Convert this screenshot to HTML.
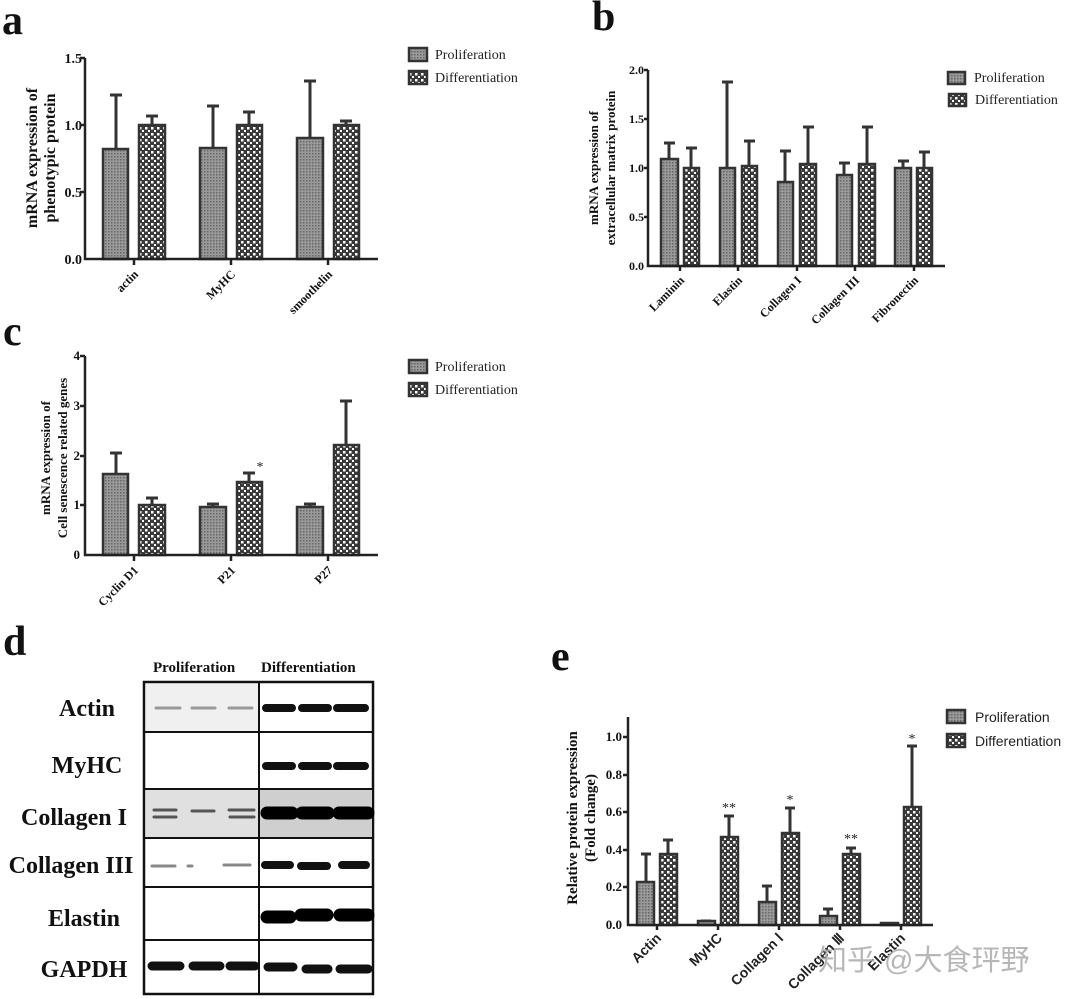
<!DOCTYPE html>
<html><head><meta charset="utf-8"><style>
html,body{margin:0;padding:0;background:#fff}
svg{display:block}
.t{font-family:"Liberation Serif",serif;font-weight:bold;fill:#111}
.l{font-family:"Liberation Serif",serif;fill:#222;font-size:14px}
.s{font-family:"Liberation Sans",sans-serif;fill:#222;font-size:14px}
.ax{stroke:#222;stroke-width:2.5;fill:none}
.e{stroke:#333;stroke-width:3;fill:none}
.p{fill:url(#pp);stroke:#333;stroke-width:2.5}
.d{fill:url(#pd);stroke:#333;stroke-width:2.5}
</style></head><body>
<svg width="1080" height="999" viewBox="0 0 1080 999" xmlns="http://www.w3.org/2000/svg">
<defs>
<pattern id="pp" width="3" height="3" patternUnits="userSpaceOnUse"><rect width="3" height="3" fill="#999"/><rect width="1.5" height="1.5" fill="#666"/></pattern>
<pattern id="pd" width="6" height="6" patternUnits="userSpaceOnUse"><rect width="6" height="6" fill="#3a3a3a"/><rect x="1" y="1" width="2.5" height="2.5" fill="#fff"/><rect x="4" y="4" width="2" height="2" fill="#fff"/></pattern>
</defs>

<!-- Panel a -->
<text class="t" x="2" y="34" font-size="42">a</text>
<g class="t" font-size="14" text-anchor="end">
<text x="82" y="264">0.0</text><text x="82" y="197">0.5</text><text x="82" y="130">1.0</text><text x="82" y="63">1.5</text></g>
<text class="t" font-size="16" text-anchor="middle" transform="translate(37,158) rotate(-90)">mRNA expression of</text>
<text class="t" font-size="16" text-anchor="middle" transform="translate(55,158) rotate(-90)">phenotypic protein</text>
<path class="e" d="M116 149V95M110 95H122M152 125V116M146 116H158M213 148V106M207 106H219M249 125V112M243 112H255M310 138V81M304 81H316M346 125V121M340 121H352"/>
<rect class="p" x="103" y="149" width="25" height="110"/><rect class="d" x="139" y="125" width="26" height="134"/>
<rect class="p" x="200" y="148" width="26" height="111"/><rect class="d" x="237" y="125" width="25" height="134"/>
<rect class="p" x="297" y="138" width="26" height="121"/><rect class="d" x="334" y="125" width="25" height="134"/>
<path class="ax" d="M85 58V259H378M80 58H85M80 125H85M80 192H85M134 259v6M231 259v6M328 259v6"/>
<g class="t" font-size="12" text-anchor="end">
<text transform="translate(139,275) rotate(-45)">actin</text>
<text transform="translate(236,275) rotate(-45)">MyHC</text>
<text transform="translate(333,275) rotate(-45)">smoothelin</text></g>
<rect class="p" x="409" y="48" width="18" height="13"/><rect class="d" x="409" y="71" width="18" height="13"/>
<text class="l" x="435" y="59">Proliferation</text><text class="l" x="435" y="82">Differentiation</text>

<!-- Panel b -->
<text class="t" x="592" y="30" font-size="42">b</text>
<g class="t" font-size="12" text-anchor="end">
<text x="644" y="270">0.0</text><text x="644" y="221">0.5</text><text x="644" y="172">1.0</text><text x="644" y="123">1.5</text><text x="644" y="74">2.0</text></g>
<text class="t" font-size="13" text-anchor="middle" transform="translate(598,168) rotate(-90)">mRNA expression of</text>
<text class="t" font-size="13" text-anchor="middle" transform="translate(615,168) rotate(-90)">extracellular matrix protein</text>
<path class="e" d="M669 159V143M664 143H675M691 168V148M686 148H697M727 168V82M722 82H733M749 166V141M744 141H755M785 182V151M780 151H791M808 164V127M803 127H814M844 175V163M839 163H850M867 164V127M862 127H873M903 168V161M898 161H909M924 168V152M919 152H930"/>
<rect class="p" x="661" y="159" width="17" height="107"/><rect class="d" x="684" y="168" width="15" height="98"/>
<rect class="p" x="720" y="168" width="15" height="98"/><rect class="d" x="742" y="166" width="15" height="100"/>
<rect class="p" x="778" y="182" width="15" height="84"/><rect class="d" x="800" y="164" width="16" height="102"/>
<rect class="p" x="837" y="175" width="15" height="91"/><rect class="d" x="859" y="164" width="16" height="102"/>
<rect class="p" x="895" y="168" width="16" height="98"/><rect class="d" x="917" y="168" width="15" height="98"/>
<path class="ax" d="M648 70V266H945M644 70H648M644 119H648M644 168H648M644 217H648M680 266v5M738 266v5M797 266v5M855 266v5M914 266v5"/>
<g class="t" font-size="12" text-anchor="end">
<text transform="translate(685,281) rotate(-45)">Laminin</text>
<text transform="translate(743,281) rotate(-45)">Elastin</text>
<text transform="translate(802,281) rotate(-45)">Collagen I</text>
<text transform="translate(860,281) rotate(-45)">Collagen III</text>
<text transform="translate(919,281) rotate(-45)">Fibronectin</text></g>
<rect class="p" x="948" y="72" width="17" height="12"/><rect class="d" x="949" y="94" width="17" height="12"/>
<text class="l" x="974" y="82">Proliferation</text><text class="l" x="975" y="104">Differentiation</text>

<!-- Panel c -->
<text class="t" x="3" y="345" font-size="42">c</text>
<g class="t" font-size="13" text-anchor="end">
<text x="80" y="559">0</text><text x="80" y="509">1</text><text x="80" y="460">2</text><text x="80" y="410">3</text><text x="80" y="360">4</text></g>
<text class="t" font-size="13" text-anchor="middle" transform="translate(50,458) rotate(-90)">mRNA expression of</text>
<text class="t" font-size="13" text-anchor="middle" transform="translate(67,458) rotate(-90)">Cell senescence related genes</text>
<path class="e" d="M116 474V453M110 453H122M152 505V498M146 498H158M213 507V504M207 504H219M249 482V473M243 473H255M310 507V504M304 504H316M346 445V401M340 401H352"/>
<rect class="p" x="103" y="474" width="25" height="81"/><rect class="d" x="139" y="505" width="26" height="50"/>
<rect class="p" x="200" y="507" width="26" height="48"/><rect class="d" x="237" y="482" width="25" height="73"/>
<rect class="p" x="297" y="507" width="26" height="48"/><rect class="d" x="334" y="445" width="25" height="110"/>
<text class="l" x="260" y="471" text-anchor="middle" font-size="17">*</text>
<path class="ax" d="M85 356V555H378M80 356H85M80 406H85M80 456H85M80 505H85M134 555v6M231 555v6M328 555v6"/>
<g class="t" font-size="12" text-anchor="end">
<text transform="translate(139,571) rotate(-45)">Cyclin D1</text>
<text transform="translate(236,571) rotate(-45)">P21</text>
<text transform="translate(333,571) rotate(-45)">P27</text></g>
<rect class="p" x="409" y="360" width="18" height="13"/><rect class="d" x="409" y="383" width="18" height="13"/>
<text class="l" x="435" y="371">Proliferation</text><text class="l" x="435" y="394">Differentiation</text>

<!-- Panel d -->
<text class="t" x="3" y="655" font-size="42">d</text>
<text class="t" x="153" y="672" font-size="15">Proliferation</text>
<text class="t" x="261" y="672" font-size="15">Differentiation</text>
<rect x="144" y="682" width="229" height="312" fill="#fff" stroke="#111" stroke-width="2.5"/>
<rect x="146" y="790" width="112" height="47" fill="#e0e0e0"/>
<rect x="260" y="790" width="112" height="47" fill="#cfcfcf"/>
<rect x="146" y="684" width="112" height="47" fill="#f0f0f0"/>
<path d="M144 732H373M144 789H373M144 838H373M144 887H373M144 940H373M259 682V994" stroke="#111" stroke-width="2"/>
<g stroke-linecap="round" fill="none">
<path d="M156 708H180M192 708H215M229 708H252" stroke="#999" stroke-width="3"/>
<path d="M266 708H292M302 708H328M337 708H365" stroke="#111" stroke-width="8"/>
<path d="M266 766H292M302 766H328M337 766H365" stroke="#111" stroke-width="8"/>
<path d="M154 810H176M192 811H214M229 810H254M154 817H176M230 817H254" stroke="#555" stroke-width="3"/>
<path d="M267 813H292M302 813H328M339 813H368" stroke="#000" stroke-width="13"/>
<path d="M152 866H175M188 866H192M224 865H250" stroke="#888" stroke-width="3"/>
<path d="M265 865H290M301 866H327M342 865H366" stroke="#111" stroke-width="8"/>
<path d="M267 917H290M301 915H327M340 915H368" stroke="#000" stroke-width="13"/>
<path d="M152 966H180M193 966H220M230 966H255M268 967H293M306 969H328M340 969H368" stroke="#111" stroke-width="9"/>
</g>
<g class="t" font-size="24" text-anchor="middle">
<text x="87" y="716">Actin</text><text x="87" y="773">MyHC</text><text x="74" y="825">Collagen I</text>
<text x="71" y="873">Collagen III</text><text x="84" y="926">Elastin</text><text x="84" y="977">GAPDH</text></g>

<!-- Panel e -->
<text class="t" x="551" y="670" font-size="42">e</text>
<g class="t" font-size="13" text-anchor="end">
<text x="622" y="929">0.0</text><text x="622" y="891">0.2</text><text x="622" y="854">0.4</text><text x="622" y="816">0.6</text><text x="622" y="779">0.8</text><text x="622" y="741">1.0</text></g>
<text class="t" font-size="15" text-anchor="middle" transform="translate(577,818) rotate(-90)">Relative protein expression</text>
<text class="t" font-size="15" text-anchor="middle" transform="translate(595,818) rotate(-90)">(Fold change)</text>
<path class="e" d="M646 882V854M641 854H651M668 854V840M663 840H673M706 922V921M701 921H711M729 837V816M724 816H734M767 902V886M762 886H772M790 833V808M785 808H795M828 916V909M823 909H833M851 854V848M846 848H856M912 807V746M907 746H917"/>
<rect class="p" x="637" y="882" width="17" height="43"/><rect class="d" x="660" y="854" width="17" height="71"/>
<rect class="p" x="698" y="921" width="17" height="4"/><rect class="d" x="721" y="837" width="17" height="88"/>
<rect class="p" x="759" y="902" width="17" height="23"/><rect class="d" x="782" y="833" width="17" height="92"/>
<rect class="p" x="820" y="916" width="17" height="9"/><rect class="d" x="843" y="854" width="17" height="71"/>
<rect class="p" x="881" y="923" width="17" height="2"/><rect class="d" x="904" y="807" width="17" height="118"/>
<g class="l" font-size="14" text-anchor="middle"><text x="729" y="812">**</text><text x="790" y="804">*</text><text x="851" y="843">**</text><text x="912" y="743">*</text></g>
<path class="ax" d="M628 717V925H933M623 737H628M623 775H628M623 812H628M623 850H628M623 887H628M657 925v5M718 925v5M779 925v5M840 925v5M901 925v5"/>
<g class="s" font-size="13" font-weight="bold" text-anchor="end">
<text transform="translate(662,939) rotate(-45)">Actin</text>
<text transform="translate(723,939) rotate(-45)">MyHC</text>
<text transform="translate(784,939) rotate(-45)">Collagen Ⅰ</text>
<text transform="translate(845,939) rotate(-45)">Collagen Ⅲ</text>
<text transform="translate(906,939) rotate(-45)">Elastin</text></g>
<rect class="p" x="947" y="710" width="18" height="13"/><rect class="d" x="947" y="734" width="18" height="13"/>
<text class="s" x="975" y="722">Proliferation</text><text class="s" x="975" y="746">Differentiation</text>
<text x="818" y="970" font-family="'Liberation Sans','Noto Sans CJK SC',sans-serif" font-size="29" fill="#aaa" fill-opacity="0.85">知乎 @大食玶野</text>
</svg>
</body></html>
